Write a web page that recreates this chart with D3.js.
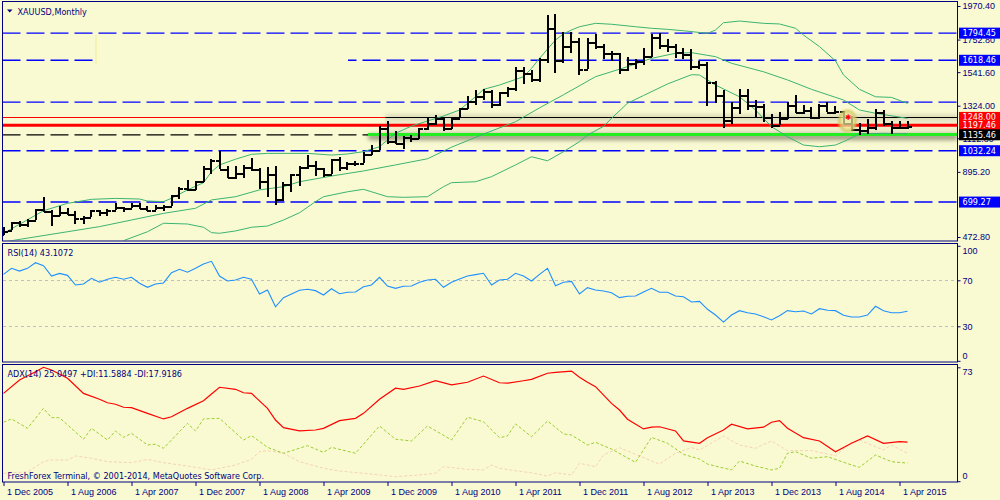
<!DOCTYPE html>
<html>
<head>
<meta charset="utf-8">
<script src="https://cdn.jsdelivr.net/npm/d3@7"></script>
<style>
  html, body { margin: 0; padding: 0; background: #fafad2; }
  svg { display: block; font-family: Tahoma, "DejaVu Sans Condensed", "Liberation Sans", sans-serif; font-size: 9px; }
</style>
</head>
<body>
<div id="viz"></div>
<script>
// monthly XAUUSD bars, index 0 = Dec 2005 ... 113 = May 2015
var opens = [495,517,568,556,583,654,643,614,632,624, 599,604,647,632,650,666,662,681,660,650,
    666,672,743,789,783,834,923,971,916,864, 885,928,913,833,880,716,816,880,927,942,
    922,884,979,927,953,955,1008,1040,1182,1096, 1082,1118,1114,1180,1214,1244,1180,1247,1307,1357,
    1386,1421,1332,1410,1439,1557,1536,1500,1628,1826, 1620,1714,1746,1565,1740,1710,1668,1664,1559,1598,
    1614,1648,1772,1719,1713,1675,1662,1579,1597,1476, 1393,1234,1313,1396,1327,1323,1251,1202,1244,1326,
    1284,1296,1250,1327,1282,1287,1210,1171,1167,1184, 1283,1212,1183,1184],
  highs = [538,570,574,589,654,730,646,677,663,642, 612,651,650,656,690,669,694,692,672,683,
    682,744,795,845,839,932,976,1033,936,936, 938,988,917,925,931,829,882,935,1006,963,
    923,981,990,961,968,1025,1070,1195,1227,1162, 1127,1135,1181,1249,1266,1245,1251,1307,1388,1424,
    1432,1423,1411,1447,1575,1577,1556,1632,1912,1920, 1804,1802,1763,1764,1790,1724,1678,1668,1641,1627,
    1696,1790,1796,1754,1726,1696,1690,1617,1608,1487, 1424,1348,1434,1434,1362,1333,1267,1280,1345,1392,
    1331,1315,1333,1345,1322,1287,1256,1209,1239,1300, 1293,1224,1224,1228],
  lows = [489,515,537,535,583,638,543,610,613,560, 560,603,606,609,648,637,662,652,641,647,
    642,672,722,774,779,830,880,914,854,850, 856,898,786,735,681,704,767,801,913,867,
    865,881,902,905,931,955,1003,1035,1075,1073, 1044,1087,1111,1165,1200,1157,1175,1242,1305,1331,
    1360,1308,1324,1383,1418,1462,1477,1478,1600,1535, 1604,1666,1522,1563,1689,1627,1612,1527,1547,1564,
    1591,1640,1693,1672,1636,1626,1555,1563,1321,1339, 1180,1208,1273,1293,1251,1221,1182,1202,1239,1277,
    1268,1241,1240,1281,1273,1206,1161,1131,1142,1167, 1191,1142,1170,1175],
  closes = [513,568,556,582,654,643,614,632,624,599, 604,647,632,650,666,662,681,660,650,666,
    672,743,789,783,834,923,971,916,864,885, 928,913,833,880,716,816,880,927,942,922,
    884,979,927,953,955,1008,1040,1182,1096,1082, 1118,1114,1180,1214,1244,1180,1247,1307,1357,1386,
    1421,1332,1410,1439,1557,1536,1500,1628,1826,1620, 1714,1746,1565,1740,1710,1668,1664,1559,1598,1614,
    1648,1772,1719,1713,1675,1662,1579,1597,1476,1393, 1234,1313,1396,1327,1323,1251,1202,1244,1326,1284,
    1296,1250,1327,1282,1287,1210,1171,1167,1184,1283, 1212,1183,1184,1190];

// bollinger bands: [month index, price]
var bbUpper = [[0,497],[5,643],[8,691],[11,717],[14,723],[17,719],[18,706],[20,702],[21,724],[23,778],
    [25,825],[26,896],[27,940],[29,977],[31,1009],[33,1015],[38,1015],[41,1004],[43,1011],[45,1026],
    [47,1058],[49,1145],[51,1192],[53,1225],[55,1257],[57,1296],[59,1382],[60,1430],[62,1458],[65,1512],
    [66,1566],[67,1631],[69,1750],[70,1790],[71,1815],[72,1836],[74,1858],[76,1852],[79,1836],[81,1826],
    [83,1819],[85,1810],[88,1793],[89,1815],[90,1862],[92,1873],[95,1858],[97,1854],[99,1826],[100,1782],
    [102,1707],[104,1615],[105,1523],[107,1430],[109,1382],[111,1378],[113,1339]],
  bbMiddle = [[0,440],[1,449],[8,507],[12,540],[16,583],[20,626],[24,659],[26,713],[29,734],[32,778],
    [35,799],[37,831],[41,868],[45,901],[49,940],[53,980],[56,1055],[60,1140],[64,1220],[67,1310],
    [70,1395],[74,1512],[78,1577],[81,1631],[84,1664],[86,1668],[89,1642],[91,1599],[95,1544],[98,1491],
    [101,1430],[105,1361],[107,1296],[109,1275],[113,1242]],
  bbLower = [[15,449],[18,507],[20,562],[23,557],[25,536],[26,501],[27,497],[29,512],[31,536],[33,544],
    [35,583],[37,630],[39,702],[40,734],[43,766],[45,782],[46,766],[48,734],[50,730],[53,734],
    [55,799],[56,825],[59,831],[61,864],[64,940],[66,993],[68,967],[70,1026],[72,1091],[73,1134],
    [75,1190],[76,1242],[78,1340],[80,1390],[83,1465],[86,1525],[87,1523],[89,1458],[92,1382],[94,1296],
    [96,1188],[98,1123],[100,1069],[102,1058],[104,1069],[105,1091],[107,1141],[110,1145],[113,1142]];

var rsi = [75.2,80.4,78,80.4,85.3,82.7,73.7,76,74.3,65.9, 66.8,71.7,68.3,70.9,72.6,70.9,72.6,67.4,63.9,66.8,
    67.7,76.6,79.6,77,80.4,84.2,86.5,73.7,69.4,70.3, 72.6,70.9,58.1,61.6,47,54.9,58.1,61.3,62.2,61,
    57.2,62.7,58.3,59.6,59.8,64.4,65.9,72.6,65,63, 64.8,65,68.3,70.3,70.9,63.9,68.3,71.1,73.7,74.9,
    76.1,65.9,70.3,70.9,76.1,73.7,69.4,75.2,80.4,65.3, 68.3,69.1,58.1,63.6,61.6,60.7,59.2,54.9,56.1,56.3,
    59.8,63,59.6,59.6,56.3,55.7,51.1,51.7,44.8,39.8, 33.7,39.8,43.6,41.8,40.7,38.3,35.5,39.2,43.6,42.7,
    43.3,40.7,45.3,43.9,43.6,39.6,38.1,38.1,39.8,47.4, 43.6,41.8,41.8,43.1];
var rsiLevels = [70, 30];

var adx = [[0,56.3],[2,64.9],[4,70.2],[5,73],[6,71.3],[8,66],[10,56.3],[12,52.5],[13,50.3],[14,49.3],
    [15,47.4],[16,47.1],[18,43.5],[20,39.9],[21,41.3],[23,46.7],[25,51.6],[26,55.9],[27,60.2],[29,58.9],
    [30,56.7],[31,56.3],[33,46.7],[34,39.2],[35,34.3],[37,32.2],[39,32.8],[40,33.9],[42,38.8],[44,40.3],
    [45,43.5],[47,52.5],[49,59.6],[50,58.9],[52,61],[54,64.4],[56,61.7],[58,63.4],[60,67.4],[62,63.1],
    [63,62.8],[65,64.4],[66,65.3],[68,69.2],[69,69.8],[71,70.6],[72,66.6],[73,63.4],[74,60.6],[76,49.9],
    [77,45.6],[78,39.7],[80,33.5],[81,34.6],[82,34.9],[84,32.2],[85,25.8],[87,24.3],[88,27.9],[90,32.8],
    [91,36.5],[93,33.5],[95,34.6],[96,37.8],[97,38.8],[98,33.9],[100,27.9],[102,25.8],[104,18.9],[106,24.3],
    [108,29],[110,24.3],[112,25.3],[113,25.0]],
  plusDI = [[0,37.8],[1,39.9],[3,33.9],[5,46.7],[6,40.7],[7,40.7],[10,26.9],[11,33.9],[13,26.4],[14,32.2],
    [15,28.1],[16,30.7],[18,23.2],[19,23.7],[20,21.1],[23,37.1],[24,32.2],[25,39.9],[27,40.3],[30,26.4],
    [31,29.2],[33,21.7],[35,17.9],[38,22.8],[40,18.5],[41,21.7],[44,17.9],[47,35.4],[49,26.9],[51,25.8],
    [53,35.4],[56,26.4],[58,41],[60,38.1],[62,27.9],[63,29],[64,36.7],[66,28.5],[68,38.6],[70,30.3],
    [71,29.6],[73,23.2],[74,24.9],[76,20.6],[79,12.1],[81,28.1],[83,24.3],[85,17.2],[87,14.2],[88,11],
    [89,9.7],[91,7.2],[92,12.9],[94,9.7],[96,7.2],[97,8.3],[98,17.9],[99,18.9],[101,14.7],[103,15.7],
    [106,10.4],[107,8.9],[109,16.8],[111,12.5],[113,11.6]],
  minusDI = [[0,5],[3,6],[5,12.5],[6,13.6],[8,13.6],[9,16.2],[11,14.7],[13,12.5],[16,11.9],[18,14],
    [20,11.9],[23,9.7],[26,7.2],[29,10.4],[31,14],[32,18.9],[33,19.6],[35,17.9],[37,12.5],[40,8.3],
    [42,6.5],[45,5.1],[49,2.9],[52,4],[54,5.1],[55,9.3],[58,7.6],[60,7.2],[61,10.4],[62,8.3],
    [64,6.7],[66,5.4],[68,3.3],[69,5.4],[71,4],[72,11.5],[74,9.3],[75,16.8],[77,21.5],[79,17.2],
    [82,11],[84,17.9],[86,21.5],[87,20],[89,26],[90,29],[92,23.2],[94,21.1],[96,25.8],[98,19.6],
    [101,19.6],[104,16.3],[106,24.9],[107,26.4],[110,20],[111,23.2],[113,17.9]];

var timeTickIdx = [0,8,16,24,32,40,48,56,64,72,80,88,96,104,112],
  timeLabels = ['1 Dec 2005','1 Aug 2006','1 Apr 2007','1 Dec 2007','1 Aug 2008','1 Apr 2009',
    '1 Dec 2009','1 Aug 2010','1 Apr 2011','1 Dec 2011','1 Aug 2012','1 Apr 2013',
    '1 Dec 2013','1 Aug 2014','1 Apr 2015'],
  priceTicks = [1970.40, 1752.80, 1541.60, 1324.00, 1112.80, 895.20, 472.80],
  rsiTicks = [100, 70, 30, 0],
  adxTicks = [73, 0];

// chart objects
var blueLevels = [1794.45, 1618.46, 1347.00, 1032.24, 699.27],
  blackLevel = 1135.46,
  zoneTop = 1248.00, zoneMid = 1197.46, greenLevel = 1140,
  zoneStart = 47.7, greenStart = 45.6,
  coverMonths = [11.56, 43.06], coverPrices = [1782, 1596],
  bomb = [105.5, 1225],
  blueBoxes = [1794.45, 1618.46, 1032.24, 699.27],
  redBoxes = [1248.00, 1197.46],
  blackBoxes = [1135.46];

var bg = '#fafad2', navy = '#000080',
  left = 2.5, right = 957.5,
  mainTop = 1.5, mainBot = 241,
  rsiTop = 243.5, rsiBot = 362,
  adxTop = 364.5, adxBot = 482;

var svg = d3.select('#viz').append('svg')
    .attr('width', 1000)
    .attr('height', 500);

svg.append('rect').attr('width', 1000).attr('height', 500).attr('fill', bg);

var x = d3.scaleLinear().domain([0, 113]).range([3.5, 907.5]),
  yP = d3.scaleLinear().domain([472.8, 1970.4]).range([237, 6]),
  yR = d3.scaleLinear().domain([0, 100]).range([360.8, 245.8]),
  yA = d3.scaleLinear().domain([0, 73]).range([481.2, 367.3]);

var defs = svg.append('defs');
[['clipMain', mainTop, mainBot], ['clipRsi', rsiTop, rsiBot], ['clipAdx', adxTop, adxBot]].forEach(function (c) {
    defs.append('clipPath').attr('id', c[0])
        .append('rect')
            .attr('x', left + 0.5).attr('y', c[1] + 0.5)
            .attr('width', right - left - 1).attr('height', c[2] - c[1] - 1);
});
defs.append('filter').attr('id', 'soft').attr('x', '-5%').attr('y', '-100%').attr('width', '110%').attr('height', '300%')
    .append('feGaussianBlur').attr('stdDeviation', 2.2);
defs.append('filter').attr('id', 'blob').attr('x', '-50%').attr('y', '-50%').attr('width', '200%').attr('height', '200%')
    .append('feGaussianBlur').attr('stdDeviation', 1);

// ---------- main panel ----------
var main = svg.append('g').attr('clip-path', 'url(#clipMain)');

// shading round the zone
main.append('rect')
    .attr('x', x(zoneStart)).attr('y', yP(zoneTop) - 3)
    .attr('width', right - x(zoneStart)).attr('height', 5)
    .attr('fill', '#9a9a80').attr('opacity', 0.35).attr('filter', 'url(#soft)');
main.append('rect')
    .attr('x', x(zoneStart)).attr('y', yP(zoneTop))
    .attr('width', right - x(zoneStart)).attr('height', yP(greenLevel) - yP(zoneTop))
    .attr('fill', '#d8d8bc').attr('opacity', 0.35);
main.append('rect')
    .attr('x', x(greenStart)).attr('y', yP(greenLevel))
    .attr('width', right - x(greenStart)).attr('height', 6)
    .attr('fill', '#505040').attr('opacity', 0.55).attr('filter', 'url(#soft)');

var hline = function (level, x0, color, width, dash) {
    main.append('line')
        .attr('x1', x0).attr('x2', right)
        .attr('y1', yP(level)).attr('y2', yP(level))
        .style('stroke', color)
        .style('stroke-width', width)
        .style('stroke-dasharray', dash || null);
};

blueLevels.forEach(function (v) { hline(v, left, '#0000ff', 1.4, '18,6'); });
hline(blackLevel, left, '#000000', 1.3, '18,6');

// object covering part of the 1618 line
main.append('rect')
    .attr('x', x(coverMonths[0])).attr('y', yP(coverPrices[0]))
    .attr('width', x(coverMonths[1]) - x(coverMonths[0]))
    .attr('height', yP(coverPrices[1]) - yP(coverPrices[0]))
    .attr('fill', bg);
main.append('line')
    .attr('x1', x(coverMonths[0])).attr('x2', x(coverMonths[0]))
    .attr('y1', yP(coverPrices[0])).attr('y2', yP(coverPrices[1]))
    .style('stroke', '#eeee90').style('stroke-width', 1);

// red / black / green zone lines
main.append('line')
    .attr('x1', left).attr('x2', x(zoneStart))
    .attr('y1', Math.round(yP(zoneTop)) + 0.5).attr('y2', Math.round(yP(zoneTop)) + 0.5)
    .style('stroke', '#ff0000').style('stroke-width', 1).style('shape-rendering', 'crispEdges');
main.append('line')
    .attr('x1', x(zoneStart)).attr('x2', right)
    .attr('y1', Math.round(yP(zoneTop)) + 0.5).attr('y2', Math.round(yP(zoneTop)) + 0.5)
    .style('stroke', '#000000').style('stroke-width', 1).style('shape-rendering', 'crispEdges');
hline(zoneMid, left, '#ff0000', 3);
main.append('line')
    .attr('x1', x(greenStart)).attr('x2', right)
    .attr('y1', Math.round(yP(greenLevel)) + 0.5).attr('y2', Math.round(yP(greenLevel)) + 0.5)
    .style('stroke', '#22ee22').style('stroke-width', 3).style('shape-rendering', 'crispEdges');

// bollinger bands
var priceLine = d3.line()
    .x(function (d) { return x(d[0]); })
    .y(function (d) { return yP(d[1]); });

[bbUpper, bbMiddle, bbLower].forEach(function (band) {
    main.append('path')
        .attr('d', priceLine(band))
        .style('fill', 'none')
        .style('stroke', '#3cb371')
        .style('stroke-width', 1);
});

// bars
main.append('g').selectAll('path')
    .data(d3.range(opens.length))
    .join('path')
        .attr('d', function (i) {
            var cx = Math.round(x(i));
            var yo = Math.round(yP(opens[i])) + 0.5, yc = Math.round(yP(closes[i])) + 0.5;
            return 'M' + cx + ',' + Math.round(yP(highs[i])) + 'V' + Math.round(yP(lows[i])) +
                'M' + (cx - 4) + ',' + yo + 'H' + cx +
                'M' + cx + ',' + yc + 'H' + (cx + 4);
        })
        .style('fill', 'none')
        .style('stroke', '#000')
        .style('stroke-width', 2)
        .style('shape-rendering', 'crispEdges');

// marker object
main.append('ellipse')
    .attr('cx', x(bomb[0])).attr('cy', yP(bomb[1]))
    .attr('rx', 8).attr('ry', 10)
    .attr('fill', '#f2eca0').attr('fill-opacity', 0.7)
    .attr('stroke', '#cfc45a').attr('stroke-width', 3).attr('stroke-opacity', 0.8)
    .attr('filter', 'url(#blob)');
main.append('text')
    .attr('x', x(bomb[0]) + 0.5).attr('y', yP(bomb[1]) - 0.5)
    .attr('text-anchor', 'middle')
    .style('fill', '#ff0000').style('font-size', '8px').style('font-weight', 'bold')
    .text('\u2731');

// ---------- rsi panel ----------
var rsiG = svg.append('g').attr('clip-path', 'url(#clipRsi)');
rsiLevels.forEach(function (v) {
    rsiG.append('line')
        .attr('x1', left).attr('x2', right)
        .attr('y1', Math.round(yR(v)) + 0.5).attr('y2', Math.round(yR(v)) + 0.5)
        .style('stroke', '#c0c0c0').style('stroke-dasharray', '3,3').style('shape-rendering', 'crispEdges');
});
rsiG.append('path')
    .attr('d', d3.line().x(function (d, i) { return x(i); }).y(function (d) { return yR(d); })(rsi))
    .style('fill', 'none').style('stroke', '#1e90ff').style('stroke-width', 1.1);

// ---------- adx panel ----------
var adxG = svg.append('g').attr('clip-path', 'url(#clipAdx)');
var adxLine = d3.line()
    .x(function (d) { return x(d[0]); })
    .y(function (d) { return yA(d[1]); });
adxG.append('path').attr('d', adxLine(minusDI))
    .style('fill', 'none').style('stroke', '#f4d2b4').style('stroke-width', 1).style('stroke-dasharray', '3,2');
adxG.append('path').attr('d', adxLine(plusDI))
    .style('fill', 'none').style('stroke', '#9acd32').style('stroke-width', 1).style('stroke-dasharray', '3,2');
adxG.append('path').attr('d', adxLine(adx))
    .style('fill', 'none').style('stroke', '#ff0000').style('stroke-width', 1.2);

// ---------- frames ----------
[[mainTop, mainBot], [rsiTop, rsiBot], [adxTop, adxBot]].forEach(function (p) {
    svg.append('rect')
        .attr('x', left).attr('y', p[0])
        .attr('width', right - left).attr('height', p[1] - p[0])
        .style('fill', 'none').style('stroke', navy).style('stroke-width', 1);
});

// ---------- axes ----------
var styleAxis = function (g) {
    g.select('.domain').remove();
    g.selectAll('line').style('stroke', navy);
    g.selectAll('text').style('fill', navy).style('font-family', null).style('font-size', '9px');
};

svg.append('g')
    .attr('transform', 'translate(' + right + ',0)')
    .call(d3.axisRight(yP).tickValues(priceTicks).tickSize(3).tickPadding(2)
        .tickFormat(function (d) { return d.toFixed(2); }))
    .call(styleAxis);

var clampAxis = function (scale, ticks, top, bot) {
    return function (g) {
        g.call(d3.axisRight(scale).tickValues(ticks).tickSize(3).tickPadding(2));
        g.call(styleAxis);
        g.selectAll('text').attr('y', function (d) {
            var y = Math.max(top + 7, Math.min(bot - 6, scale(d)));
            return y - scale(d);
        });
    };
};
svg.append('g').attr('transform', 'translate(' + right + ',0)').call(clampAxis(yR, rsiTicks, rsiTop, rsiBot));
svg.append('g').attr('transform', 'translate(' + right + ',0)').call(clampAxis(yA, adxTicks, adxTop, adxBot));

var timeAxis = svg.append('g')
    .attr('transform', 'translate(0,' + adxBot + ')')
    .call(d3.axisBottom(x).tickValues(timeTickIdx).tickSize(4).tickPadding(3)
        .tickFormat(function (d, k) { return timeLabels[k]; }))
    .call(styleAxis);
timeAxis.selectAll('text').attr('text-anchor', 'start').attr('dx', 3);

// price label boxes
var boxes = blueBoxes.map(function (v) { return [v, '#0000ff']; })
    .concat(redBoxes.map(function (v) { return [v, '#ff0000']; }))
    .concat(blackBoxes.map(function (v) { return [v, '#000000']; }));
boxes.forEach(function (b) {
    svg.append('rect')
        .attr('x', right + 1.5).attr('y', yP(b[0]) - 5.5)
        .attr('width', 1000 - right).attr('height', 11)
        .attr('fill', b[1]);
    svg.append('text')
        .attr('x', right + 5).attr('y', yP(b[0]))
        .attr('dy', '0.34em')
        .style('fill', '#ffffff').style('font-size', '9px')
        .text(b[0].toFixed(2));
});

// ---------- captions ----------
svg.append('path').attr('d', 'M7,9.5 L12.5,9.5 L9.75,12.5 Z').attr('fill', navy);
svg.append('text').attr('x', 17.5).attr('y', 14.5).style('fill', navy).text('XAUUSD,Monthly');
svg.append('text').attr('x', 7.5).attr('y', 256).style('fill', navy).text('RSI(14) 43.1072');
svg.append('text').attr('x', 7.5).attr('y', 376.5).style('fill', navy)
    .text('ADX(14) 25.0497 +DI:11.5884 -DI:17.9186');
svg.append('text').attr('x', 7.5).attr('y', 478.5).style('fill', navy)
    .text('FreshForex Terminal, \u00a9 2001-2014, MetaQuotes Software Corp.');
</script>
</body>
</html>
